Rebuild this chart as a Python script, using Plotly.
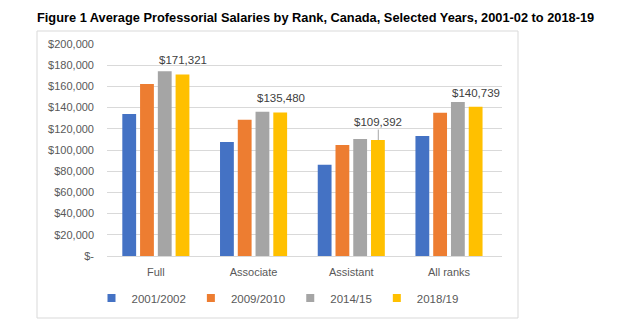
import plotly.graph_objects as go

categories = ["Full", "Associate", "Assistant", "All ranks"]
series_names = ["2001/2002", "2009/2010", "2014/15", "2018/19"]
s2001 = [133900, 107500, 86000, 113100]
s2009 = [162200, 128500, 104600, 135100]
s2014 = [174400, 136000, 110300, 145200]
s2018 = [171321, 135480, 109392, 140739]
colors = ["#4472C4", "#ED7D31", "#A5A5A5", "#FFC000"]
tick_vals = [0, 20000, 40000, 60000, 80000, 100000, 120000, 140000, 160000, 180000, 200000]
tick_text = ["$-", "$20,000", "$40,000", "$60,000", "$80,000", "$100,000", "$120,000",
             "$140,000", "$160,000", "$180,000", "$200,000"]

FONT = "Liberation Sans"
W, H = 627, 334
L, R, T, B = 107, 125, 44, 78
pw, ph = W - L - R, H - T - B

fig = go.Figure()
for name, vals, c in zip(series_names, [s2001, s2009, s2014, s2018], colors):
    fig.add_trace(go.Bar(x=categories, y=vals, name=name, marker_color=c,
                         marker_line_width=0, hoverinfo="skip", showlegend=False))
    # legend entry with a small square swatch
    fig.add_trace(go.Scatter(x=[None], y=[None], mode="markers", name=name,
                             marker=dict(symbol="square", size=8, color=c)))

# data labels for the last series
for i, (cat, v) in enumerate(zip(categories, s2018)):
    txt = "${:,}".format(v)
    if cat == "Assistant":
        fig.add_annotation(x=cat, y=v, text=txt, xshift=27, showarrow=True,
                           arrowhead=0, arrowwidth=1, arrowcolor="#A6A6A6",
                           ax=0, ay=-18, font=dict(family=FONT, size=11.5, color="#404040"))
    else:
        fig.add_annotation(x=cat, y=v, text=txt, xshift=27, yshift=14, showarrow=False,
                           yanchor="middle", font=dict(family=FONT, size=11.5, color="#404040"))

def px2x(p):
    return (p - L) / pw

def py2y(p):
    return (H - B - p) / ph

fig.add_shape(type="rect", xref="paper", yref="paper",
              x0=px2x(37), x1=px2x(518), y0=py2y(318), y1=py2y(31),
              line=dict(color="#D9D9D9", width=1), fillcolor="rgba(0,0,0,0)", layer="below")

fig.update_layout(
    width=W, height=H,
    margin=dict(l=L, r=R, t=T, b=B),
    paper_bgcolor="white", plot_bgcolor="white",
    barmode="group", bargap=0.273, bargroupgap=0.222,
    font=dict(family=FONT, size=11, color="#595959"),
    title=dict(text="<b>Figure 1 Average Professorial Salaries by Rank, Canada, Selected Years, 2001-02 to 2018-19</b>",
               x=37 / W, xref="container", xanchor="left",
               y=1 - 18 / H, yref="container", yanchor="middle",
               font=dict(family=FONT, size=12.8, color="black")),
    xaxis=dict(showline=True, linecolor="#D9D9D9", linewidth=1, ticks="",
               tickfont=dict(family=FONT, size=11, color="#595959"), ticklabelstandoff=6),
    yaxis=dict(range=[0, 200000], tickvals=tick_vals, ticktext=tick_text,
               showgrid=True, gridcolor="#D9D9D9", gridwidth=1, zeroline=False,
               showline=False, ticks="", ticklabelstandoff=12,
               tickfont=dict(family=FONT, size=11, color="#595959")),
    legend=dict(orientation="h", x=px2x(277.5), xanchor="center", y=py2y(298), yanchor="middle",
                font=dict(family=FONT, size=11.5, color="#595959"), traceorder="normal",
                itemwidth=30, tracegroupgap=0),
    showlegend=True,
)

fig.write_html("out.html")
